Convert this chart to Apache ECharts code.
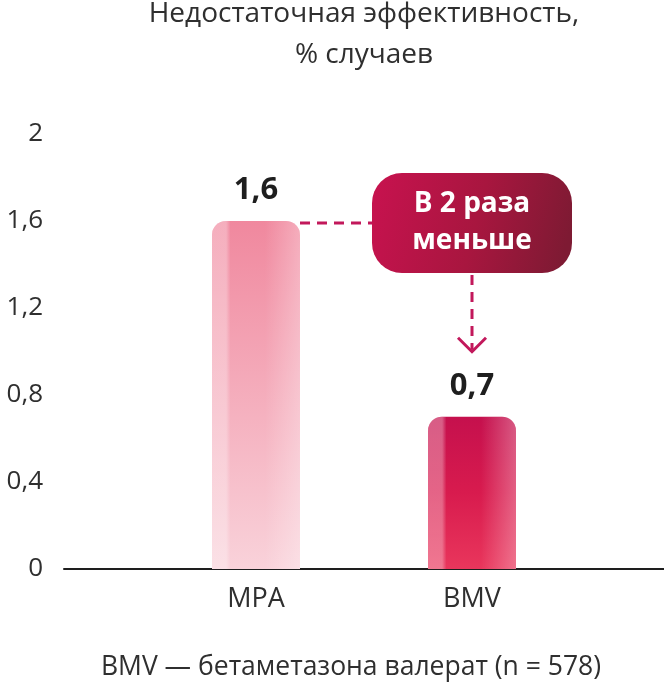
<!DOCTYPE html>
<html><head><meta charset="utf-8">
<script src="https://cdn.jsdelivr.net/npm/echarts@6/dist/echarts.min.js"></script>
<style>html,body{margin:0;padding:0;background:#fff}#c{width:664px;height:687px}</style>
</head><body><div id="c"></div>
<script>
const categories = ['MPA', 'BMV'];
const values = [1.6, 0.7];
const yMin = 0, yMax = 2, yStep = 0.4;
const titleText = 'Недостаточная эффективность,\n% случаев';
const footerText = 'BMV — бетаметазона валерат (n = 578)';
const calloutText = 'В 2 раза\nменьше';

const FONT = "'Open Sans', 'Noto Sans', sans-serif";
const LG = echarts.graphic.LinearGradient;
const barBase = [
  new LG(0, 0, 0, 1, [{offset: 0, color: '#f0889e'}, {offset: 1, color: '#f9d2da'}]),
  new LG(0, 0, 0, 1, [{offset: 0, color: '#c5104d'}, {offset: 0.5, color: '#d81b4e'}, {offset: 1, color: '#e9365c'}])
];
const sheen = new LG(0, 0, 1, 0, [
  {offset: 0, color: 'rgba(255,255,255,0.32)'},
  {offset: 0.16, color: 'rgba(255,255,255,0.32)'},
  {offset: 0.21, color: 'rgba(255,255,255,0)'},
  {offset: 0.6, color: 'rgba(255,255,255,0)'},
  {offset: 1, color: 'rgba(255,255,255,0.3)'}
]);
const fmt = v => String(v).replace('.', ',');

const chart = echarts.init(document.getElementById('c'), null, {renderer: 'canvas'});
const option = {
  animation: false,
  backgroundColor: '#fff',
  title: [
    {text: titleText, left: 364, top: -6, padding: 0, textAlign: 'center',
     textStyle: {fontFamily: FONT, fontSize: 28, fontWeight: 'normal', color: '#2f2f2f', lineHeight: 41}},
    {text: footerText, left: 351, top: 651, padding: 0, textAlign: 'center',
     textStyle: {fontFamily: FONT, fontSize: 26.5, fontWeight: 'normal', color: '#2f2f2f', lineHeight: 32}}
  ],
  grid: [
    {left: 64, right: 0, top: 134, bottom: 118},
    {left: 148, right: 84, top: 134, bottom: 118}
  ],
  xAxis: [
    {type: 'value', gridIndex: 0, min: 0, max: 1, axisLine: {show: true, onZero: false, lineStyle: {color: '#1e1e1e', width: 2}},
     axisTick: {show: false}, axisLabel: {show: false}, splitLine: {show: false}},
    {type: 'category', gridIndex: 1, data: categories, axisLine: {show: false}, axisTick: {show: false},
     axisLabel: {margin: 17, fontFamily: FONT, fontSize: 27, color: '#2f2f2f'}}
  ],
  yAxis: [
    {type: 'value', gridIndex: 0, min: yMin, max: yMax, interval: yStep, splitLine: {show: false},
     axisLine: {show: false}, axisTick: {show: false},
     axisLabel: {margin: 21, fontFamily: FONT, fontSize: 26, color: '#2f2f2f', formatter: v => fmt(+v.toFixed(1))}},
    {type: 'value', gridIndex: 1, min: yMin, max: yMax, interval: yStep, show: false}
  ],
  series: [
    {type: 'bar', xAxisIndex: 1, yAxisIndex: 1, barWidth: 88, z: 2,
     data: values.map((v, i) => ({value: v, itemStyle: {color: barBase[i], borderRadius: [14, 14, 0, 0]}})),
     label: {show: true, position: 'top', distance: 15, fontFamily: FONT, fontSize: 31, fontWeight: 'bold', color: '#1e1e1e',
             formatter: p => fmt(p.value)}},
    {type: 'bar', xAxisIndex: 1, yAxisIndex: 1, barWidth: 88, barGap: '-100%', z: 3, silent: true,
     data: values.map(v => ({value: v, itemStyle: {color: sheen, borderRadius: [14, 14, 0, 0]}}))}
  ]
};
chart.setOption(option);

const a = chart.convertToPixel({xAxisIndex: 1, yAxisIndex: 1}, [0, values[0]]);
const b = chart.convertToPixel({xAxisIndex: 1, yAxisIndex: 1}, [1, values[1]]);
const lineY = a[1] + 2;
const boxW = 200, boxH = 100;
const boxL = b[0] - boxW / 2, boxT = lineY - boxH / 2;
const tipY = b[1] - 65;
const stroke = '#c2185b';
chart.setOption({
  graphic: [
    {type: 'line', z: 10, shape: {x1: a[0] + 44, y1: lineY, x2: boxL, y2: lineY},
     style: {stroke: stroke, lineWidth: 3, lineDash: [10, 7]}},
    {type: 'line', z: 10, shape: {x1: b[0], y1: boxT + boxH + 2, x2: b[0], y2: tipY - 2},
     style: {stroke: stroke, lineWidth: 3, lineDash: [10, 7]}},
    {type: 'polyline', z: 10, shape: {points: [[b[0] - 14, tipY - 14], [b[0], tipY], [b[0] + 14, tipY - 14]]},
     style: {stroke: stroke, lineWidth: 3, fill: null}},
    {type: 'rect', z: 11, shape: {x: boxL, y: boxT, width: boxW, height: boxH, r: 30},
     style: {fill: new LG(0, 0, 1, 0.5, [{offset: 0, color: '#c8124f'}, {offset: 0.55, color: '#a8163f'}, {offset: 1, color: '#7e1a33'}])}},
    {type: 'text', z: 12, style: {text: calloutText, x: b[0], y: lineY, align: 'center', verticalAlign: 'middle',
     fill: '#ffffff', font: "bold 28px 'Open Sans', 'Noto Sans', sans-serif", lineHeight: 37}}
  ]
});
</script></body></html>
